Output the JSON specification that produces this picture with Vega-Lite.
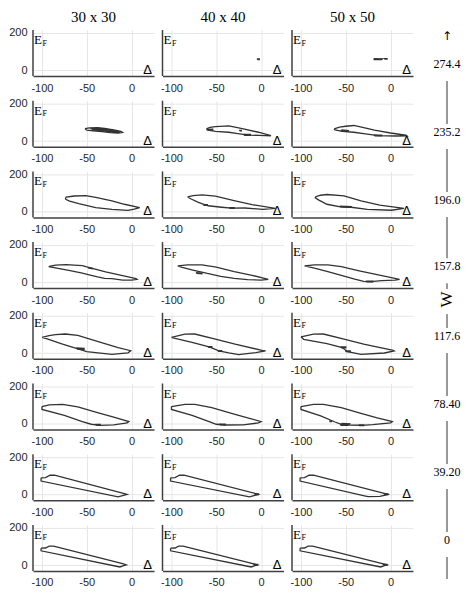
{
"$schema": "https://vega.github.io/schema/vega-lite/v6.json",
"padding": {"left": 8, "top": 10, "right": 2, "bottom": 2},
"datasets": {
"d": [
{"W":274.4,"g":"30 x 30","k":"panel"},{"W":274.4,"g":"40 x 40","k":"panel"},{"W":274.4,"g":"50 x 50","k":"panel"},
{"W":235.2,"g":"30 x 30","k":"panel"},{"W":235.2,"g":"40 x 40","k":"panel"},{"W":235.2,"g":"50 x 50","k":"panel"},
{"W":196,"g":"30 x 30","k":"panel"},{"W":196,"g":"40 x 40","k":"panel"},{"W":196,"g":"50 x 50","k":"panel"},
{"W":157.8,"g":"30 x 30","k":"panel"},{"W":157.8,"g":"40 x 40","k":"panel"},{"W":157.8,"g":"50 x 50","k":"panel"},
{"W":117.6,"g":"30 x 30","k":"panel"},{"W":117.6,"g":"40 x 40","k":"panel"},{"W":117.6,"g":"50 x 50","k":"panel"},
{"W":78.4,"g":"30 x 30","k":"panel"},{"W":78.4,"g":"40 x 40","k":"panel"},{"W":78.4,"g":"50 x 50","k":"panel"},
{"W":39.2,"g":"30 x 30","k":"panel"},{"W":39.2,"g":"40 x 40","k":"panel"},{"W":39.2,"g":"50 x 50","k":"panel"},
{"W":0,"g":"30 x 30","k":"panel"},{"W":0,"g":"40 x 40","k":"panel"},{"W":0,"g":"50 x 50","k":"panel"},

{"W":274.4,"g":"40 x 40","p":1,"x":-4,"y":57},{"W":274.4,"g":"40 x 40","p":1,"x":-2,"y":57},{"W":274.4,"g":"40 x 40","p":1,"x":-2,"y":61},{"W":274.4,"g":"40 x 40","p":1,"x":-4,"y":61},{"W":274.4,"g":"40 x 40","p":1,"x":-4,"y":57},
{"W":274.4,"g":"50 x 50","p":1,"x":-19,"y":58},{"W":274.4,"g":"50 x 50","p":1,"x":-10,"y":57},{"W":274.4,"g":"50 x 50","p":1,"x":-9,"y":61},{"W":274.4,"g":"50 x 50","p":1,"x":-18,"y":62},{"W":274.4,"g":"50 x 50","p":1,"x":-19,"y":58},
{"W":274.4,"g":"50 x 50","p":2,"x":-7,"y":60},{"W":274.4,"g":"50 x 50","p":2,"x":-4,"y":60},{"W":274.4,"g":"50 x 50","p":2,"x":-4,"y":63},{"W":274.4,"g":"50 x 50","p":2,"x":-7,"y":63},{"W":274.4,"g":"50 x 50","p":2,"x":-7,"y":60},

{"W":235.2,"g":"30 x 30","p":1,"x":-52,"y":66},{"W":235.2,"g":"30 x 30","p":1,"x":-47,"y":70},{"W":235.2,"g":"30 x 30","p":1,"x":-38,"y":71},{"W":235.2,"g":"30 x 30","p":1,"x":-30,"y":67},{"W":235.2,"g":"30 x 30","p":1,"x":-20,"y":60},{"W":235.2,"g":"30 x 30","p":1,"x":-12,"y":52},{"W":235.2,"g":"30 x 30","p":1,"x":-10,"y":46},{"W":235.2,"g":"30 x 30","p":1,"x":-15,"y":42},{"W":235.2,"g":"30 x 30","p":1,"x":-24,"y":45},{"W":235.2,"g":"30 x 30","p":1,"x":-33,"y":50},{"W":235.2,"g":"30 x 30","p":1,"x":-43,"y":55},{"W":235.2,"g":"30 x 30","p":1,"x":-50,"y":58},{"W":235.2,"g":"30 x 30","p":1,"x":-52,"y":66},
{"W":235.2,"g":"30 x 30","p":2,"x":-44,"y":63},{"W":235.2,"g":"30 x 30","p":2,"x":-34,"y":65},{"W":235.2,"g":"30 x 30","p":2,"x":-26,"y":60},{"W":235.2,"g":"30 x 30","p":2,"x":-17,"y":52},{"W":235.2,"g":"30 x 30","p":2,"x":-13,"y":47},{"W":235.2,"g":"30 x 30","p":2,"x":-20,"y":47},{"W":235.2,"g":"30 x 30","p":2,"x":-30,"y":54},{"W":235.2,"g":"30 x 30","p":2,"x":-40,"y":58},{"W":235.2,"g":"30 x 30","p":2,"x":-44,"y":63},
{"W":235.2,"g":"30 x 30","p":3,"x":-38,"y":60},{"W":235.2,"g":"30 x 30","p":3,"x":-28,"y":62},{"W":235.2,"g":"30 x 30","p":3,"x":-20,"y":55},{"W":235.2,"g":"30 x 30","p":3,"x":-14,"y":49},{"W":235.2,"g":"30 x 30","p":3,"x":-22,"y":50},{"W":235.2,"g":"30 x 30","p":3,"x":-32,"y":56},{"W":235.2,"g":"30 x 30","p":3,"x":-38,"y":60},
{"W":235.2,"g":"30 x 30","p":4,"x":-46,"y":66},{"W":235.2,"g":"30 x 30","p":4,"x":-36,"y":68},{"W":235.2,"g":"30 x 30","p":4,"x":-28,"y":64},{"W":235.2,"g":"30 x 30","p":4,"x":-36,"y":62},{"W":235.2,"g":"30 x 30","p":4,"x":-46,"y":66},
{"W":235.2,"g":"40 x 40","p":1,"x":-61,"y":65},{"W":235.2,"g":"40 x 40","p":1,"x":-57,"y":73},{"W":235.2,"g":"40 x 40","p":1,"x":-51,"y":77},{"W":235.2,"g":"40 x 40","p":1,"x":-36,"y":81},{"W":235.2,"g":"40 x 40","p":1,"x":-21,"y":66},{"W":235.2,"g":"40 x 40","p":1,"x":-3,"y":47},{"W":235.2,"g":"40 x 40","p":1,"x":10,"y":30},{"W":235.2,"g":"40 x 40","p":1,"x":11,"y":28},{"W":235.2,"g":"40 x 40","p":1,"x":-2,"y":30},{"W":235.2,"g":"40 x 40","p":1,"x":-14,"y":32},{"W":235.2,"g":"40 x 40","p":1,"x":-26,"y":40},{"W":235.2,"g":"40 x 40","p":1,"x":-36,"y":47},{"W":235.2,"g":"40 x 40","p":1,"x":-51,"y":52},{"W":235.2,"g":"40 x 40","p":1,"x":-59,"y":58},{"W":235.2,"g":"40 x 40","p":1,"x":-61,"y":65},
{"W":235.2,"g":"40 x 40","p":2,"x":-60,"y":62},{"W":235.2,"g":"40 x 40","p":2,"x":-54,"y":63},{"W":235.2,"g":"40 x 40","p":2,"x":-54,"y":59},{"W":235.2,"g":"40 x 40","p":2,"x":-60,"y":60},{"W":235.2,"g":"40 x 40","p":2,"x":-60,"y":62},
{"W":235.2,"g":"40 x 40","p":3,"x":-19,"y":31},{"W":235.2,"g":"40 x 40","p":3,"x":-12,"y":31},{"W":235.2,"g":"40 x 40","p":3,"x":-12,"y":35},{"W":235.2,"g":"40 x 40","p":3,"x":-19,"y":35},{"W":235.2,"g":"40 x 40","p":3,"x":-19,"y":31},
{"W":235.2,"g":"40 x 40","p":4,"x":-24,"y":55},{"W":235.2,"g":"40 x 40","p":4,"x":-22,"y":55},{"W":235.2,"g":"40 x 40","p":4,"x":-22,"y":57},{"W":235.2,"g":"40 x 40","p":4,"x":-24,"y":57},{"W":235.2,"g":"40 x 40","p":4,"x":-24,"y":55},
{"W":235.2,"g":"50 x 50","p":1,"x":-63,"y":65},{"W":235.2,"g":"50 x 50","p":1,"x":-57,"y":74},{"W":235.2,"g":"50 x 50","p":1,"x":-50,"y":79},{"W":235.2,"g":"50 x 50","p":1,"x":-41,"y":83},{"W":235.2,"g":"50 x 50","p":1,"x":-30,"y":72},{"W":235.2,"g":"50 x 50","p":1,"x":-18,"y":58},{"W":235.2,"g":"50 x 50","p":1,"x":0,"y":43},{"W":235.2,"g":"50 x 50","p":1,"x":17,"y":31},{"W":235.2,"g":"50 x 50","p":1,"x":18,"y":28},{"W":235.2,"g":"50 x 50","p":1,"x":5,"y":27},{"W":235.2,"g":"50 x 50","p":1,"x":-14,"y":29},{"W":235.2,"g":"50 x 50","p":1,"x":-28,"y":38},{"W":235.2,"g":"50 x 50","p":1,"x":-41,"y":47},{"W":235.2,"g":"50 x 50","p":1,"x":-54,"y":52},{"W":235.2,"g":"50 x 50","p":1,"x":-62,"y":60},{"W":235.2,"g":"50 x 50","p":1,"x":-63,"y":65},
{"W":235.2,"g":"50 x 50","p":2,"x":-55,"y":59},{"W":235.2,"g":"50 x 50","p":2,"x":-47,"y":56},{"W":235.2,"g":"50 x 50","p":2,"x":-47,"y":53},{"W":235.2,"g":"50 x 50","p":2,"x":-55,"y":56},{"W":235.2,"g":"50 x 50","p":2,"x":-55,"y":59},
{"W":235.2,"g":"50 x 50","p":3,"x":-18,"y":28},{"W":235.2,"g":"50 x 50","p":3,"x":-10,"y":28},{"W":235.2,"g":"50 x 50","p":3,"x":-10,"y":31},{"W":235.2,"g":"50 x 50","p":3,"x":-18,"y":31},{"W":235.2,"g":"50 x 50","p":3,"x":-18,"y":28},

{"W":196,"g":"30 x 30","p":1,"x":-74,"y":68},{"W":196,"g":"30 x 30","p":1,"x":-73,"y":78},{"W":196,"g":"30 x 30","p":1,"x":-64,"y":84},{"W":196,"g":"30 x 30","p":1,"x":-51,"y":86},{"W":196,"g":"30 x 30","p":1,"x":-40,"y":77},{"W":196,"g":"30 x 30","p":1,"x":-22,"y":58},{"W":196,"g":"30 x 30","p":1,"x":-8,"y":40},{"W":196,"g":"30 x 30","p":1,"x":9,"y":22},{"W":196,"g":"30 x 30","p":1,"x":3,"y":14},{"W":196,"g":"30 x 30","p":1,"x":-4,"y":7},{"W":196,"g":"30 x 30","p":1,"x":-22,"y":13},{"W":196,"g":"30 x 30","p":1,"x":-40,"y":22},{"W":196,"g":"30 x 30","p":1,"x":-59,"y":43},{"W":196,"g":"30 x 30","p":1,"x":-70,"y":58},{"W":196,"g":"30 x 30","p":1,"x":-74,"y":68},
{"W":196,"g":"40 x 40","p":1,"x":-82,"y":79},{"W":196,"g":"40 x 40","p":1,"x":-76,"y":86},{"W":196,"g":"40 x 40","p":1,"x":-66,"y":90},{"W":196,"g":"40 x 40","p":1,"x":-51,"y":83},{"W":196,"g":"40 x 40","p":1,"x":-29,"y":58},{"W":196,"g":"40 x 40","p":1,"x":-10,"y":38},{"W":196,"g":"40 x 40","p":1,"x":16,"y":18},{"W":196,"g":"40 x 40","p":1,"x":2,"y":13},{"W":196,"g":"40 x 40","p":1,"x":-18,"y":20},{"W":196,"g":"40 x 40","p":1,"x":-33,"y":19},{"W":196,"g":"40 x 40","p":1,"x":-44,"y":24},{"W":196,"g":"40 x 40","p":1,"x":-59,"y":32},{"W":196,"g":"40 x 40","p":1,"x":-70,"y":50},{"W":196,"g":"40 x 40","p":1,"x":-78,"y":68},{"W":196,"g":"40 x 40","p":1,"x":-82,"y":79},
{"W":196,"g":"40 x 40","p":2,"x":-64,"y":34},{"W":196,"g":"40 x 40","p":2,"x":-60,"y":34},{"W":196,"g":"40 x 40","p":2,"x":-60,"y":38},{"W":196,"g":"40 x 40","p":2,"x":-64,"y":38},{"W":196,"g":"40 x 40","p":2,"x":-64,"y":34},
{"W":196,"g":"40 x 40","p":3,"x":-35,"y":18},{"W":196,"g":"40 x 40","p":3,"x":-30,"y":18},{"W":196,"g":"40 x 40","p":3,"x":-30,"y":22},{"W":196,"g":"40 x 40","p":3,"x":-35,"y":22},{"W":196,"g":"40 x 40","p":3,"x":-35,"y":18},
{"W":196,"g":"50 x 50","p":1,"x":-84,"y":79},{"W":196,"g":"50 x 50","p":1,"x":-78,"y":88},{"W":196,"g":"50 x 50","p":1,"x":-71,"y":92},{"W":196,"g":"50 x 50","p":1,"x":-52,"y":85},{"W":196,"g":"50 x 50","p":1,"x":-33,"y":58},{"W":196,"g":"50 x 50","p":1,"x":-12,"y":35},{"W":196,"g":"50 x 50","p":1,"x":15,"y":18},{"W":196,"g":"50 x 50","p":1,"x":1,"y":8},{"W":196,"g":"50 x 50","p":1,"x":-26,"y":13},{"W":196,"g":"50 x 50","p":1,"x":-44,"y":24},{"W":196,"g":"50 x 50","p":1,"x":-56,"y":26},{"W":196,"g":"50 x 50","p":1,"x":-71,"y":40},{"W":196,"g":"50 x 50","p":1,"x":-80,"y":62},{"W":196,"g":"50 x 50","p":1,"x":-84,"y":74},{"W":196,"g":"50 x 50","p":1,"x":-84,"y":79},
{"W":196,"g":"50 x 50","p":2,"x":-56,"y":26},{"W":196,"g":"50 x 50","p":2,"x":-44,"y":24},{"W":196,"g":"50 x 50","p":2,"x":-44,"y":28},{"W":196,"g":"50 x 50","p":2,"x":-56,"y":30},{"W":196,"g":"50 x 50","p":2,"x":-56,"y":26},

{"W":157.8,"g":"30 x 30","p":1,"x":-92,"y":86},{"W":157.8,"g":"30 x 30","p":1,"x":-85,"y":92},{"W":157.8,"g":"30 x 30","p":1,"x":-73,"y":95},{"W":157.8,"g":"30 x 30","p":1,"x":-55,"y":90},{"W":157.8,"g":"30 x 30","p":1,"x":-46,"y":78},{"W":157.8,"g":"30 x 30","p":1,"x":-29,"y":56},{"W":157.8,"g":"30 x 30","p":1,"x":-10,"y":36},{"W":157.8,"g":"30 x 30","p":1,"x":5,"y":20},{"W":157.8,"g":"30 x 30","p":1,"x":6,"y":17},{"W":157.8,"g":"30 x 30","p":1,"x":0,"y":12},{"W":157.8,"g":"30 x 30","p":1,"x":-10,"y":12},{"W":157.8,"g":"30 x 30","p":1,"x":-22,"y":20},{"W":157.8,"g":"30 x 30","p":1,"x":-30,"y":22},{"W":157.8,"g":"30 x 30","p":1,"x":-38,"y":30},{"W":157.8,"g":"30 x 30","p":1,"x":-45,"y":38},{"W":157.8,"g":"30 x 30","p":1,"x":-55,"y":50},{"W":157.8,"g":"30 x 30","p":1,"x":-70,"y":64},{"W":157.8,"g":"30 x 30","p":1,"x":-85,"y":78},{"W":157.8,"g":"30 x 30","p":1,"x":-92,"y":84},{"W":157.8,"g":"30 x 30","p":1,"x":-92,"y":86},
{"W":157.8,"g":"30 x 30","p":2,"x":-48,"y":80},{"W":157.8,"g":"30 x 30","p":2,"x":-44,"y":76},{"W":157.8,"g":"30 x 30","p":2,"x":-44,"y":73},{"W":157.8,"g":"30 x 30","p":2,"x":-48,"y":77},{"W":157.8,"g":"30 x 30","p":2,"x":-48,"y":80},
{"W":157.8,"g":"40 x 40","p":1,"x":-93,"y":88},{"W":157.8,"g":"40 x 40","p":1,"x":-82,"y":94},{"W":157.8,"g":"40 x 40","p":1,"x":-66,"y":94},{"W":157.8,"g":"40 x 40","p":1,"x":-50,"y":82},{"W":157.8,"g":"40 x 40","p":1,"x":-30,"y":58},{"W":157.8,"g":"40 x 40","p":1,"x":-10,"y":38},{"W":157.8,"g":"40 x 40","p":1,"x":8,"y":17},{"W":157.8,"g":"40 x 40","p":1,"x":0,"y":13},{"W":157.8,"g":"40 x 40","p":1,"x":-15,"y":15},{"W":157.8,"g":"40 x 40","p":1,"x":-30,"y":22},{"W":157.8,"g":"40 x 40","p":1,"x":-45,"y":33},{"W":157.8,"g":"40 x 40","p":1,"x":-60,"y":48},{"W":157.8,"g":"40 x 40","p":1,"x":-75,"y":65},{"W":157.8,"g":"40 x 40","p":1,"x":-88,"y":80},{"W":157.8,"g":"40 x 40","p":1,"x":-93,"y":88},
{"W":157.8,"g":"40 x 40","p":2,"x":-72,"y":48},{"W":157.8,"g":"40 x 40","p":2,"x":-66,"y":46},{"W":157.8,"g":"40 x 40","p":2,"x":-66,"y":50},{"W":157.8,"g":"40 x 40","p":2,"x":-72,"y":52},{"W":157.8,"g":"40 x 40","p":2,"x":-72,"y":48},
{"W":157.8,"g":"50 x 50","p":1,"x":-96,"y":88},{"W":157.8,"g":"50 x 50","p":1,"x":-85,"y":94},{"W":157.8,"g":"50 x 50","p":1,"x":-70,"y":94},{"W":157.8,"g":"50 x 50","p":1,"x":-55,"y":84},{"W":157.8,"g":"50 x 50","p":1,"x":-35,"y":62},{"W":157.8,"g":"50 x 50","p":1,"x":-15,"y":42},{"W":157.8,"g":"50 x 50","p":1,"x":10,"y":17},{"W":157.8,"g":"50 x 50","p":1,"x":5,"y":12},{"W":157.8,"g":"50 x 50","p":1,"x":-10,"y":10},{"W":157.8,"g":"50 x 50","p":1,"x":-22,"y":5},{"W":157.8,"g":"50 x 50","p":1,"x":-30,"y":6},{"W":157.8,"g":"50 x 50","p":1,"x":-40,"y":18},{"W":157.8,"g":"50 x 50","p":1,"x":-55,"y":38},{"W":157.8,"g":"50 x 50","p":1,"x":-70,"y":58},{"W":157.8,"g":"50 x 50","p":1,"x":-85,"y":76},{"W":157.8,"g":"50 x 50","p":1,"x":-96,"y":88},
{"W":157.8,"g":"50 x 50","p":2,"x":-27,"y":3},{"W":157.8,"g":"50 x 50","p":2,"x":-20,"y":3},{"W":157.8,"g":"50 x 50","p":2,"x":-20,"y":7},{"W":157.8,"g":"50 x 50","p":2,"x":-27,"y":7},{"W":157.8,"g":"50 x 50","p":2,"x":-27,"y":3},

{"W":117.6,"g":"30 x 30","p":1,"x":-100,"y":84},{"W":117.6,"g":"30 x 30","p":1,"x":-92,"y":93},{"W":117.6,"g":"30 x 30","p":1,"x":-85,"y":99},{"W":117.6,"g":"30 x 30","p":1,"x":-74,"y":102},{"W":117.6,"g":"30 x 30","p":1,"x":-60,"y":95},{"W":117.6,"g":"30 x 30","p":1,"x":-40,"y":66},{"W":117.6,"g":"30 x 30","p":1,"x":-15,"y":30},{"W":117.6,"g":"30 x 30","p":1,"x":-1,"y":13},{"W":117.6,"g":"30 x 30","p":1,"x":-4,"y":2},{"W":117.6,"g":"30 x 30","p":1,"x":-22,"y":-6},{"W":117.6,"g":"30 x 30","p":1,"x":-40,"y":3},{"W":117.6,"g":"30 x 30","p":1,"x":-50,"y":8},{"W":117.6,"g":"30 x 30","p":1,"x":-59,"y":22},{"W":117.6,"g":"30 x 30","p":1,"x":-77,"y":48},{"W":117.6,"g":"30 x 30","p":1,"x":-95,"y":78},{"W":117.6,"g":"30 x 30","p":1,"x":-100,"y":84},
{"W":117.6,"g":"30 x 30","p":2,"x":-61,"y":22},{"W":117.6,"g":"30 x 30","p":2,"x":-53,"y":20},{"W":117.6,"g":"30 x 30","p":2,"x":-53,"y":26},{"W":117.6,"g":"30 x 30","p":2,"x":-61,"y":28},{"W":117.6,"g":"30 x 30","p":2,"x":-61,"y":22},
{"W":117.6,"g":"40 x 40","p":1,"x":-100,"y":84},{"W":117.6,"g":"40 x 40","p":1,"x":-85,"y":101},{"W":117.6,"g":"40 x 40","p":1,"x":-74,"y":102},{"W":117.6,"g":"40 x 40","p":1,"x":-51,"y":75},{"W":117.6,"g":"40 x 40","p":1,"x":-29,"y":48},{"W":117.6,"g":"40 x 40","p":1,"x":1,"y":15},{"W":117.6,"g":"40 x 40","p":1,"x":5,"y":12},{"W":117.6,"g":"40 x 40","p":1,"x":-6,"y":3},{"W":117.6,"g":"40 x 40","p":1,"x":-25,"y":-8},{"W":117.6,"g":"40 x 40","p":1,"x":-36,"y":1},{"W":117.6,"g":"40 x 40","p":1,"x":-47,"y":12},{"W":117.6,"g":"40 x 40","p":1,"x":-58,"y":33},{"W":117.6,"g":"40 x 40","p":1,"x":-77,"y":57},{"W":117.6,"g":"40 x 40","p":1,"x":-96,"y":79},{"W":117.6,"g":"40 x 40","p":1,"x":-100,"y":84},
{"W":117.6,"g":"40 x 40","p":2,"x":-48,"y":10},{"W":117.6,"g":"40 x 40","p":2,"x":-44,"y":10},{"W":117.6,"g":"40 x 40","p":2,"x":-44,"y":14},{"W":117.6,"g":"40 x 40","p":2,"x":-48,"y":14},{"W":117.6,"g":"40 x 40","p":2,"x":-48,"y":10},
{"W":117.6,"g":"40 x 40","p":3,"x":-59,"y":31},{"W":117.6,"g":"40 x 40","p":3,"x":-55,"y":31},{"W":117.6,"g":"40 x 40","p":3,"x":-55,"y":35},{"W":117.6,"g":"40 x 40","p":3,"x":-59,"y":35},{"W":117.6,"g":"40 x 40","p":3,"x":-59,"y":31},
{"W":117.6,"g":"50 x 50","p":1,"x":-100,"y":87},{"W":117.6,"g":"50 x 50","p":1,"x":-86,"y":101},{"W":117.6,"g":"50 x 50","p":1,"x":-75,"y":102},{"W":117.6,"g":"50 x 50","p":1,"x":-52,"y":75},{"W":117.6,"g":"50 x 50","p":1,"x":-30,"y":48},{"W":117.6,"g":"50 x 50","p":1,"x":3,"y":15},{"W":117.6,"g":"50 x 50","p":1,"x":4,"y":12},{"W":117.6,"g":"50 x 50","p":1,"x":-7,"y":1},{"W":117.6,"g":"50 x 50","p":1,"x":-33,"y":-6},{"W":117.6,"g":"50 x 50","p":1,"x":-48,"y":8},{"W":117.6,"g":"50 x 50","p":1,"x":-54,"y":30},{"W":117.6,"g":"50 x 50","p":1,"x":-71,"y":51},{"W":117.6,"g":"50 x 50","p":1,"x":-97,"y":74},{"W":117.6,"g":"50 x 50","p":1,"x":-100,"y":87},
{"W":117.6,"g":"50 x 50","p":2,"x":-55,"y":28},{"W":117.6,"g":"50 x 50","p":2,"x":-50,"y":28},{"W":117.6,"g":"50 x 50","p":2,"x":-50,"y":33},{"W":117.6,"g":"50 x 50","p":2,"x":-55,"y":33},{"W":117.6,"g":"50 x 50","p":2,"x":-55,"y":28},
{"W":117.6,"g":"50 x 50","p":3,"x":-50,"y":8},{"W":117.6,"g":"50 x 50","p":3,"x":-45,"y":8},{"W":117.6,"g":"50 x 50","p":3,"x":-45,"y":12},{"W":117.6,"g":"50 x 50","p":3,"x":-50,"y":12},{"W":117.6,"g":"50 x 50","p":3,"x":-50,"y":8},

{"W":78.4,"g":"30 x 30","p":1,"x":-100,"y":92},{"W":78.4,"g":"30 x 30","p":1,"x":-92,"y":101},{"W":78.4,"g":"30 x 30","p":1,"x":-77,"y":104},{"W":78.4,"g":"30 x 30","p":1,"x":-60,"y":90},{"W":78.4,"g":"30 x 30","p":1,"x":-40,"y":62},{"W":78.4,"g":"30 x 30","p":1,"x":-20,"y":36},{"W":78.4,"g":"30 x 30","p":1,"x":-3,"y":12},{"W":78.4,"g":"30 x 30","p":1,"x":-5,"y":5},{"W":78.4,"g":"30 x 30","p":1,"x":-20,"y":-5},{"W":78.4,"g":"30 x 30","p":1,"x":-35,"y":-8},{"W":78.4,"g":"30 x 30","p":1,"x":-45,"y":-2},{"W":78.4,"g":"30 x 30","p":1,"x":-55,"y":12},{"W":78.4,"g":"30 x 30","p":1,"x":-75,"y":45},{"W":78.4,"g":"30 x 30","p":1,"x":-100,"y":77},{"W":78.4,"g":"30 x 30","p":1,"x":-100,"y":92},
{"W":78.4,"g":"30 x 30","p":2,"x":-40,"y":-6},{"W":78.4,"g":"30 x 30","p":2,"x":-35,"y":-6},{"W":78.4,"g":"30 x 30","p":2,"x":-35,"y":-3},{"W":78.4,"g":"30 x 30","p":2,"x":-40,"y":-3},{"W":78.4,"g":"30 x 30","p":2,"x":-40,"y":-6},
{"W":78.4,"g":"40 x 40","p":1,"x":-100,"y":92},{"W":78.4,"g":"40 x 40","p":1,"x":-85,"y":104},{"W":78.4,"g":"40 x 40","p":1,"x":-74,"y":104},{"W":78.4,"g":"40 x 40","p":1,"x":-55,"y":86},{"W":78.4,"g":"40 x 40","p":1,"x":-35,"y":58},{"W":78.4,"g":"40 x 40","p":1,"x":-15,"y":32},{"W":78.4,"g":"40 x 40","p":1,"x":0,"y":12},{"W":78.4,"g":"40 x 40","p":1,"x":-3,"y":5},{"W":78.4,"g":"40 x 40","p":1,"x":-20,"y":-5},{"W":78.4,"g":"40 x 40","p":1,"x":-40,"y":-6},{"W":78.4,"g":"40 x 40","p":1,"x":-50,"y":-2},{"W":78.4,"g":"40 x 40","p":1,"x":-58,"y":12},{"W":78.4,"g":"40 x 40","p":1,"x":-77,"y":45},{"W":78.4,"g":"40 x 40","p":1,"x":-100,"y":77},{"W":78.4,"g":"40 x 40","p":1,"x":-100,"y":92},
{"W":78.4,"g":"40 x 40","p":2,"x":-46,"y":-5},{"W":78.4,"g":"40 x 40","p":2,"x":-40,"y":-5},{"W":78.4,"g":"40 x 40","p":2,"x":-40,"y":-1},{"W":78.4,"g":"40 x 40","p":2,"x":-46,"y":-1},{"W":78.4,"g":"40 x 40","p":2,"x":-46,"y":-5},
{"W":78.4,"g":"50 x 50","p":1,"x":-100,"y":92},{"W":78.4,"g":"50 x 50","p":1,"x":-86,"y":104},{"W":78.4,"g":"50 x 50","p":1,"x":-75,"y":104},{"W":78.4,"g":"50 x 50","p":1,"x":-55,"y":86},{"W":78.4,"g":"50 x 50","p":1,"x":-35,"y":58},{"W":78.4,"g":"50 x 50","p":1,"x":-15,"y":32},{"W":78.4,"g":"50 x 50","p":1,"x":2,"y":12},{"W":78.4,"g":"50 x 50","p":1,"x":0,"y":5},{"W":78.4,"g":"50 x 50","p":1,"x":-20,"y":-4},{"W":78.4,"g":"50 x 50","p":1,"x":-32,"y":-8},{"W":78.4,"g":"50 x 50","p":1,"x":-45,"y":-6},{"W":78.4,"g":"50 x 50","p":1,"x":-55,"y":-2},{"W":78.4,"g":"50 x 50","p":1,"x":-62,"y":10},{"W":78.4,"g":"50 x 50","p":1,"x":-78,"y":42},{"W":78.4,"g":"50 x 50","p":1,"x":-100,"y":77},{"W":78.4,"g":"50 x 50","p":1,"x":-100,"y":92},
{"W":78.4,"g":"50 x 50","p":2,"x":-56,"y":-8},{"W":78.4,"g":"50 x 50","p":2,"x":-48,"y":-8},{"W":78.4,"g":"50 x 50","p":2,"x":-46,"y":0},{"W":78.4,"g":"50 x 50","p":2,"x":-54,"y":2},{"W":78.4,"g":"50 x 50","p":2,"x":-56,"y":-8},
{"W":78.4,"g":"50 x 50","p":3,"x":-54,"y":-6},{"W":78.4,"g":"50 x 50","p":3,"x":-49,"y":-4},{"W":78.4,"g":"50 x 50","p":3,"x":-50,"y":0},{"W":78.4,"g":"50 x 50","p":3,"x":-55,"y":-2},{"W":78.4,"g":"50 x 50","p":3,"x":-54,"y":-6},
{"W":78.4,"g":"50 x 50","p":4,"x":-35,"y":-9},{"W":78.4,"g":"50 x 50","p":4,"x":-30,"y":-9},{"W":78.4,"g":"50 x 50","p":4,"x":-30,"y":-5},{"W":78.4,"g":"50 x 50","p":4,"x":-35,"y":-5},{"W":78.4,"g":"50 x 50","p":4,"x":-35,"y":-9},
{"W":78.4,"g":"50 x 50","p":5,"x":-68,"y":12},{"W":78.4,"g":"50 x 50","p":5,"x":-66,"y":12},{"W":78.4,"g":"50 x 50","p":5,"x":-66,"y":14},{"W":78.4,"g":"50 x 50","p":5,"x":-68,"y":14},{"W":78.4,"g":"50 x 50","p":5,"x":-68,"y":12},

{"W":39.2,"g":"30 x 30","p":1,"x":-101,"y":89},{"W":39.2,"g":"30 x 30","p":1,"x":-96,"y":90},{"W":39.2,"g":"30 x 30","p":1,"x":-91,"y":103},{"W":39.2,"g":"30 x 30","p":1,"x":-86,"y":103},{"W":39.2,"g":"30 x 30","p":1,"x":-7,"y":4},{"W":39.2,"g":"30 x 30","p":1,"x":-5,"y":1},{"W":39.2,"g":"30 x 30","p":1,"x":-8,"y":-3},{"W":39.2,"g":"30 x 30","p":1,"x":-15,"y":-12},{"W":39.2,"g":"30 x 30","p":1,"x":-101,"y":72},{"W":39.2,"g":"30 x 30","p":1,"x":-101,"y":89},
{"W":39.2,"g":"40 x 40","p":1,"x":-101,"y":89},{"W":39.2,"g":"40 x 40","p":1,"x":-96,"y":90},{"W":39.2,"g":"40 x 40","p":1,"x":-91,"y":103},{"W":39.2,"g":"40 x 40","p":1,"x":-86,"y":103},{"W":39.2,"g":"40 x 40","p":1,"x":-5,"y":4},{"W":39.2,"g":"40 x 40","p":1,"x":-3,"y":1},{"W":39.2,"g":"40 x 40","p":1,"x":-6,"y":-3},{"W":39.2,"g":"40 x 40","p":1,"x":-13,"y":-12},{"W":39.2,"g":"40 x 40","p":1,"x":-101,"y":72},{"W":39.2,"g":"40 x 40","p":1,"x":-101,"y":89},
{"W":39.2,"g":"40 x 40","p":2,"x":-7,"y":0},{"W":39.2,"g":"40 x 40","p":2,"x":-3,"y":0},{"W":39.2,"g":"40 x 40","p":2,"x":-3,"y":3},{"W":39.2,"g":"40 x 40","p":2,"x":-7,"y":3},{"W":39.2,"g":"40 x 40","p":2,"x":-7,"y":0},
{"W":39.2,"g":"50 x 50","p":1,"x":-101,"y":89},{"W":39.2,"g":"50 x 50","p":1,"x":-96,"y":90},{"W":39.2,"g":"50 x 50","p":1,"x":-91,"y":103},{"W":39.2,"g":"50 x 50","p":1,"x":-86,"y":103},{"W":39.2,"g":"50 x 50","p":1,"x":-5,"y":4},{"W":39.2,"g":"50 x 50","p":1,"x":-3,"y":1},{"W":39.2,"g":"50 x 50","p":1,"x":-7,"y":-4},{"W":39.2,"g":"50 x 50","p":1,"x":-12,"y":-10},{"W":39.2,"g":"50 x 50","p":1,"x":-25,"y":-11},{"W":39.2,"g":"50 x 50","p":1,"x":-28,"y":-8},{"W":39.2,"g":"50 x 50","p":1,"x":-101,"y":72},{"W":39.2,"g":"50 x 50","p":1,"x":-101,"y":89},
{"W":39.2,"g":"50 x 50","p":2,"x":-7,"y":0},{"W":39.2,"g":"50 x 50","p":2,"x":-3,"y":0},{"W":39.2,"g":"50 x 50","p":2,"x":-3,"y":3},{"W":39.2,"g":"50 x 50","p":2,"x":-7,"y":3},{"W":39.2,"g":"50 x 50","p":2,"x":-7,"y":0},

{"W":0,"g":"30 x 30","p":1,"x":-101,"y":91},{"W":0,"g":"30 x 30","p":1,"x":-96,"y":92},{"W":0,"g":"30 x 30","p":1,"x":-92,"y":102},{"W":0,"g":"30 x 30","p":1,"x":-87,"y":102},{"W":0,"g":"30 x 30","p":1,"x":-9,"y":7},{"W":0,"g":"30 x 30","p":1,"x":-6,"y":2},{"W":0,"g":"30 x 30","p":1,"x":-9,"y":-2},{"W":0,"g":"30 x 30","p":1,"x":-13,"y":-9},{"W":0,"g":"30 x 30","p":1,"x":-101,"y":77},{"W":0,"g":"30 x 30","p":1,"x":-101,"y":91},
{"W":0,"g":"40 x 40","p":1,"x":-101,"y":91},{"W":0,"g":"40 x 40","p":1,"x":-96,"y":92},{"W":0,"g":"40 x 40","p":1,"x":-92,"y":102},{"W":0,"g":"40 x 40","p":1,"x":-87,"y":102},{"W":0,"g":"40 x 40","p":1,"x":-7,"y":6},{"W":0,"g":"40 x 40","p":1,"x":-4,"y":2},{"W":0,"g":"40 x 40","p":1,"x":-7,"y":-2},{"W":0,"g":"40 x 40","p":1,"x":-11,"y":-9},{"W":0,"g":"40 x 40","p":1,"x":-101,"y":77},{"W":0,"g":"40 x 40","p":1,"x":-101,"y":91},
{"W":0,"g":"40 x 40","p":2,"x":-8,"y":1},{"W":0,"g":"40 x 40","p":2,"x":-4,"y":1},{"W":0,"g":"40 x 40","p":2,"x":-4,"y":4},{"W":0,"g":"40 x 40","p":2,"x":-8,"y":4},{"W":0,"g":"40 x 40","p":2,"x":-8,"y":1},
{"W":0,"g":"50 x 50","p":1,"x":-101,"y":91},{"W":0,"g":"50 x 50","p":1,"x":-96,"y":92},{"W":0,"g":"50 x 50","p":1,"x":-92,"y":102},{"W":0,"g":"50 x 50","p":1,"x":-87,"y":102},{"W":0,"g":"50 x 50","p":1,"x":-7,"y":6},{"W":0,"g":"50 x 50","p":1,"x":-4,"y":2},{"W":0,"g":"50 x 50","p":1,"x":-7,"y":-2},{"W":0,"g":"50 x 50","p":1,"x":-11,"y":-9},{"W":0,"g":"50 x 50","p":1,"x":-101,"y":77},{"W":0,"g":"50 x 50","p":1,"x":-101,"y":91},
{"W":0,"g":"50 x 50","p":2,"x":-8,"y":1},{"W":0,"g":"50 x 50","p":2,"x":-4,"y":1},{"W":0,"g":"50 x 50","p":2,"x":-4,"y":4},{"W":0,"g":"50 x 50","p":2,"x":-8,"y":4},{"W":0,"g":"50 x 50","p":2,"x":-8,"y":1}
],
"w": [
{"W":274.4,"t":"274.4"},{"W":235.2,"t":"235.2"},{"W":196,"t":"196.0"},{"W":157.8,"t":"157.8"},
{"W":117.6,"t":"117.6"},{"W":78.4,"t":"78.40"},{"W":39.2,"t":"39.20"},{"W":0,"t":"0"}
],
"one": [{"t":"W","a":"↑"}]
},
"hconcat": [
{
"data": {"name": "d"},
"facet": {
"row": {"field": "W", "type": "ordinal", "sort": "descending", "header": null},
"column": {"field": "g", "type": "nominal", "title": null, "header": {"labelFont": "Liberation Serif", "labelFontSize": 15, "labelColor": "#000", "labelPadding": 4}}
},
"spacing": {"row": 6.7, "column": 5.5},
"resolve": {"axis": {"x": "independent"}},
"spec": {
"width": 121,
"height": 46,
"layer": [
{
"transform": [{"filter": "datum.k != 'panel'"}],
"mark": {"type": "line", "color": "#333333", "strokeWidth": 1.3, "clip": true},
"encoding": {
"x": {"field": "x", "type": "quantitative", "scale": {"domain": [-110, 25], "nice": false, "zero": false}, "axis": {"values": [-100, -50, 0], "title": null, "grid": true, "labelFlush": false, "labelExpr": "replace(datum.label, '\u2212', '-')"}},
"y": {"field": "y", "type": "quantitative", "scale": {"domain": [-30, 215], "nice": false, "zero": false}, "axis": {"values": [0, 100, 200], "title": null, "grid": true, "domain": false}},
"detail": {"field": "p", "type": "nominal"},
"order": {"value": null}
}
},
{
"transform": [{"filter": "datum.k == 'panel'"}],
"mark": {"type": "rule", "color": "#404040", "strokeWidth": 1.5},
"encoding": {"x": {"datum": -110}}
},
{
"transform": [{"filter": "datum.k == 'panel'"}],
"mark": {"type": "text", "text": "E", "font": "Liberation Serif", "fontSize": 13, "align": "left", "baseline": "alphabetic", "dx": 1, "dy": 14, "color": "#000"},
"encoding": {"x": {"datum": -110}, "y": {"datum": 215}}
},
{
"transform": [{"filter": "datum.k == 'panel'"}],
"mark": {"type": "text", "text": "F", "font": "Liberation Serif", "fontSize": 8, "align": "left", "baseline": "alphabetic", "dx": 9.5, "dy": 15.5, "color": "#000"},
"encoding": {"x": {"datum": -110}, "y": {"datum": 215}}
},
{
"transform": [{"filter": "datum.k == 'panel'"}],
"mark": {"type": "text", "text": "Δ", "font": "Liberation Sans", "fontSize": 13, "align": "right", "baseline": "alphabetic", "dx": -2, "dy": -2, "color": "#000"},
"encoding": {"x": {"datum": 25}, "y": {"datum": -30}}
}
]
}
},
{
"width": 36,
"height": 558,
"layer": [
{
"data": {"name": "one"},
"mark": {"type": "rule", "color": "#555555", "strokeWidth": 1.2},
"encoding": {
"x": {"datum": 0, "scale": {"domain": [-1, 1]}, "axis": null},
"y": {"datum": 274.4, "type": "quantitative", "scale": {"domain": [-27.67, 294], "nice": false, "zero": false}, "axis": null},
"y2": {"datum": -22.5}
}
},
{
"data": {"name": "w"},
"mark": {"type": "square", "filled": true, "color": "white", "opacity": 1, "size": 625, "yOffset": 4.5},
"encoding": {"x": {"datum": 0}, "y": {"field": "W", "type": "quantitative"}}
},
{
"data": {"name": "one"},
"mark": {"type": "square", "filled": true, "color": "white", "opacity": 1, "size": 625, "yOffset": 2},
"encoding": {"x": {"datum": 0}, "y": {"datum": 138.6}}
},
{
"data": {"name": "w"},
"mark": {"type": "text", "font": "Liberation Serif", "fontSize": 12, "baseline": "middle", "align": "center", "color": "#000"},
"encoding": {"x": {"datum": 0}, "y": {"field": "W", "type": "quantitative"}, "text": {"field": "t"}}
},
{
"data": {"name": "one"},
"mark": {"type": "text", "font": "Liberation Serif", "fontSize": 17, "angle": 270, "baseline": "middle", "align": "center", "color": "#000"},
"encoding": {"x": {"datum": 0}, "y": {"datum": 138.6}, "text": {"field": "t"}}
},
{
"data": {"name": "one"},
"mark": {"type": "text", "font": "DejaVu Sans", "fontSize": 12, "baseline": "middle", "align": "center", "color": "#000"},
"encoding": {"x": {"datum": 0}, "y": {"datum": 290.5}, "text": {"field": "a"}}
}
]
}
],
"spacing": 16,
"config": {
"view": {"stroke": null},
"axis": {"labelFont": "Liberation Sans", "labelFontSize": 11, "labelColor": "#262626", "gridColor": "#e6e6e6", "domainColor": "#404040", "domainWidth": 1.5, "ticks": false},
"axisX": {"labelPadding": 6},
"axisY": {"labelPadding": 3}
}
}
